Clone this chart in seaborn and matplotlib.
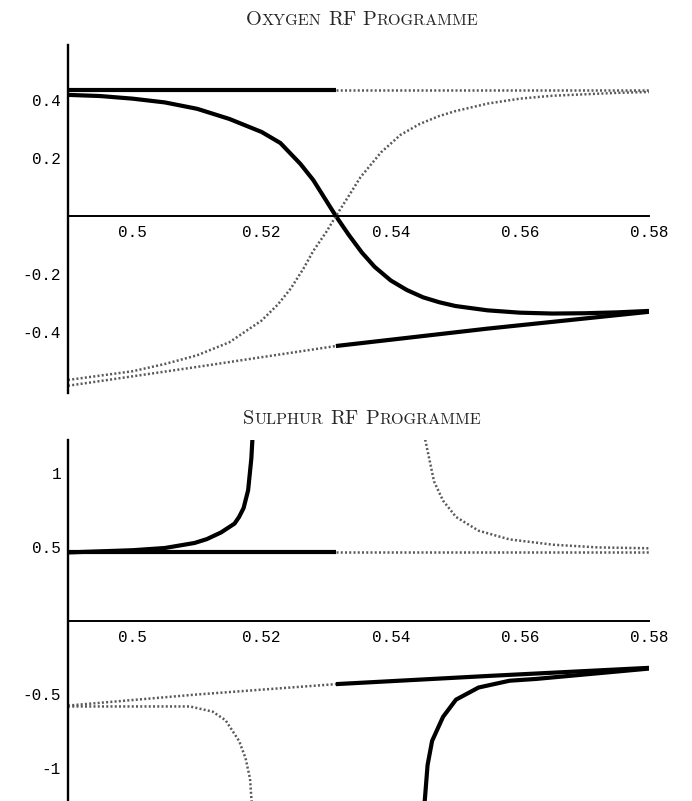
import matplotlib
matplotlib.use("Agg")
import matplotlib.pyplot as plt
from matplotlib.font_manager import FontProperties
import seaborn as sns

# ---- values ----
X_SPLIT = 0.5315

# Oxygen panel
o_level_top = 0.436
o_lower_left_x = [0.49, 0.51, X_SPLIT]
o_lower_left_y = [-0.585, -0.52, -0.448]
o_lower_right_x = [X_SPLIT, 0.555, 0.58]
o_lower_right_y = [-0.448, -0.388, -0.33]

o_solid_x = [0.49, 0.495, 0.50, 0.505, 0.51, 0.515, 0.52, 0.5229, 0.526, 0.528,
             0.5315, 0.5335, 0.5355, 0.5375, 0.54, 0.5425, 0.545, 0.5475, 0.55,
             0.555, 0.56, 0.565, 0.57, 0.575, 0.58]
o_solid_y = [0.418, 0.414, 0.405, 0.392, 0.37, 0.335, 0.29, 0.252, 0.18, 0.124,
             0.0, -0.065, -0.125, -0.175, -0.222, -0.255, -0.28, -0.297, -0.31,
             -0.325, -0.333, -0.336, -0.335, -0.332, -0.327]

o_dot_x = [0.49, 0.495, 0.50, 0.505, 0.51, 0.515, 0.52, 0.5225, 0.5245, 0.5265,
           0.528, 0.53, 0.5315, 0.5335, 0.5353, 0.5385, 0.5415, 0.5445, 0.5475,
           0.55, 0.555, 0.56, 0.565, 0.57, 0.575, 0.58]
o_dot_y = [-0.565, -0.55, -0.535, -0.51, -0.48, -0.435, -0.36, -0.305, -0.25,
           -0.18, -0.12, -0.055, 0.0, 0.07, 0.134, 0.22, 0.28, 0.318, 0.345,
           0.362, 0.388, 0.405, 0.415, 0.42, 0.425, 0.428]

# Sulphur panel
s_level_top = 0.46
s_lower_left_x = [0.49, 0.51, X_SPLIT]
s_lower_left_y = [-0.575, -0.50, -0.43]
s_lower_right_x = [X_SPLIT, 0.555, 0.58]
s_lower_right_y = [-0.43, -0.375, -0.32]

s_pos_solid_x = [0.49, 0.50, 0.505, 0.5096, 0.5115, 0.5137, 0.5158, 0.5165,
                 0.5172, 0.5179, 0.5184, 0.5186]
s_pos_solid_y = [0.46, 0.475, 0.49, 0.524, 0.55, 0.595, 0.655, 0.70, 0.76, 0.88,
                 1.095, 1.25]

s_pos_dot_x = [0.5452, 0.5467, 0.5481, 0.5501, 0.5536, 0.5584, 0.5652, 0.5721, 0.58]
s_pos_dot_y = [1.25, 0.94, 0.81, 0.70, 0.607, 0.548, 0.512, 0.494, 0.488]

s_neg_dot_x = [0.49, 0.5, 0.5089, 0.5124, 0.5144, 0.5165, 0.5175, 0.5182, 0.5184,
               0.5185]
s_neg_dot_y = [-0.581, -0.581, -0.581, -0.616, -0.674, -0.814, -0.93, -1.07, -1.198,
               -1.25]

s_neg_solid_x = [0.5452, 0.5453, 0.5457, 0.5464, 0.5481, 0.5501, 0.5536, 0.5584,
                 0.5625, 0.565, 0.57, 0.575, 0.58]
s_neg_solid_y = [-1.25, -1.198, -0.977, -0.814, -0.651, -0.535, -0.453, -0.407,
                 -0.395, -0.385, -0.365, -0.345, -0.325]

x_ticks = [0.50, 0.52, 0.54, 0.56, 0.58]
x_labels = ["0.5", "0.52", "0.54", "0.56", "0.58"]
o_yticks = [0.4, 0.2, -0.2, -0.4]
o_ylabels = ["0.4", "0.2", "-0.2", "-0.4"]
s_yticks = [1, 0.5, -0.5, -1]
s_ylabels = ["1", "0.5", "-0.5", "-1"]

titles = ["Oxygen RF Programme", "Sulphur RF Programme"]

# ---- drawing ----
sns.set_style("white")
plt.rcParams["font.family"] = ["Liberation Mono", "DejaVu Sans"]
plt.rcParams["axes.unicode_minus"] = False

W, H = 692, 801
fig = plt.figure(figsize=(W / 100, H / 100), dpi=100)
ax1 = fig.add_axes([68 / W, (H - 393) / H, 581 / W, 348 / H])
ax2 = fig.add_axes([68 / W, 0.0, 581 / W, (H - 440) / H])


def solid(ax, x, y):
    sns.lineplot(x=x, y=y, ax=ax, color="black", lw=3.0, sort=False,
                 estimator=None, solid_capstyle="butt")


def dotted(ax, x, y):
    sns.lineplot(x=x, y=y, ax=ax, color="0.35", lw=1.8, sort=False,
                 estimator=None, linestyle=(0, (0.8, 0.9)))


# oxygen
solid(ax1, [0.49, X_SPLIT], [o_level_top, o_level_top])
dotted(ax1, [X_SPLIT, 0.58], [o_level_top, o_level_top])
dotted(ax1, o_lower_left_x, o_lower_left_y)
solid(ax1, o_lower_right_x, o_lower_right_y)
solid(ax1, o_solid_x, o_solid_y)
dotted(ax1, o_dot_x, o_dot_y)

# sulphur
solid(ax2, [0.49, X_SPLIT], [s_level_top, s_level_top])
dotted(ax2, [X_SPLIT, 0.58], [s_level_top, s_level_top])
dotted(ax2, s_lower_left_x, s_lower_left_y)
solid(ax2, s_lower_right_x, s_lower_right_y)
solid(ax2, s_pos_solid_x, s_pos_solid_y)
dotted(ax2, s_pos_dot_x, s_pos_dot_y)
dotted(ax2, s_neg_dot_x, s_neg_dot_y)
solid(ax2, s_neg_solid_x, s_neg_solid_y)

for ax, ylim, yt, yl in [(ax1, (-0.61, 0.59), o_yticks, o_ylabels),
                         (ax2, (-1.22, 1.22), s_yticks, s_ylabels)]:
    ax.set_xlim(0.49, 0.58)
    ax.set_ylim(*ylim)
    ax.set_xticks(x_ticks, x_labels)
    ax.set_yticks(yt, yl)
    ax.set_xlabel("")
    ax.set_ylabel("")
    ax.patch.set_alpha(0)
    for side in ["top", "right"]:
        ax.spines[side].set_visible(False)
    ax.spines["bottom"].set_position(("data", 0))
    ax.spines["left"].set_linewidth(1.7)
    ax.spines["bottom"].set_linewidth(1.4)
    ax.spines["left"].set_color("black")
    ax.spines["bottom"].set_color("black")
    ax.tick_params(direction="inout", length=7, width=1.3, colors="black",
                   labelsize=11.5)
    ax.tick_params(axis="x", pad=3)
    ax.tick_params(axis="y", pad=1.5)


def small_caps(text, xc, ybase, big=14.6, small=11.6):
    renderer = fig.canvas.get_renderer()
    runs = []
    for i, word in enumerate(text.split(" ")):
        if i:
            runs.append((" ", None))
        for ch in word:
            size = big if ch.isupper() else small
            if runs and runs[-1][1] == size:
                runs[-1] = (runs[-1][0] + ch.upper(), size)
            else:
                runs.append((ch.upper(), size))
    widths = []
    for s, size in runs:
        if size is None:
            widths.append(big * 0.33 * fig.dpi / 72)
        else:
            fp = FontProperties(family="cmr10", size=size)
            w, _, _ = renderer.get_text_width_height_descent(s, fp, ismath=False)
            widths.append(w)
    x = xc - sum(widths) / 2
    for (s, size), w in zip(runs, widths):
        if size is not None:
            fig.text(x / W, 1 - ybase / H, s, fontsize=size, family="cmr10",
                     ha="left", va="baseline")
        x += w


small_caps(titles[0], 362, 25)
small_caps(titles[1], 362, 424)

fig.savefig("out.png", dpi=100)
